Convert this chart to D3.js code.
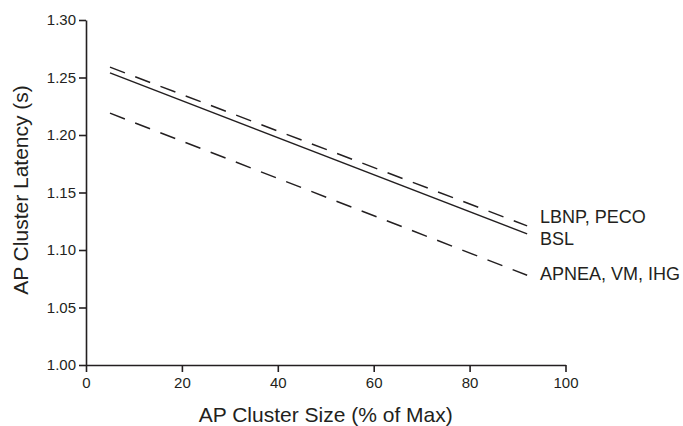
<!DOCTYPE html>
<html>
<head>
<meta charset="utf-8">
<script src="https://cdnjs.cloudflare.com/ajax/libs/d3/7.8.5/d3.min.js"></script>
<style>
  body { margin: 0; background: #fff; }
  svg { display: block; font-family: "Liberation Sans", Arial, sans-serif; }
</style>
</head>
<body>
<div id="chart"></div>
<script>
// data
var xDomain = [0, 100];
var yDomain = [1.00, 1.30];
var xTicks = [0, 20, 40, 60, 80, 100];
var yTicks = [1.00, 1.05, 1.10, 1.15, 1.20, 1.25, 1.30];
var names = ["LBNP, PECO", "BSL", "APNEA, VM, IHG"];
var xStart = [5, 5, 5];
var xEnd = [92, 92, 92];
var yStart = [1.259, 1.254, 1.219];
var yEnd = [1.121, 1.114, 1.078];
var dashed = [true, false, true];

(function(){
  var w = 683, h = 426;
  var mLeft = 86, mRight = 565.5, mTop = 20, mBottom = 365;

  var svg = d3.select("#chart").append("svg")
    .attr("width", w)
    .attr("height", h);

  var x = d3.scaleLinear().domain(xDomain).range([mLeft, mRight]);
  var y = d3.scaleLinear().domain(yDomain).range([mBottom, mTop]);

  // axes
  var gx = svg.append("g")
    .attr("transform", "translate(0," + mBottom + ")")
    .call(d3.axisBottom(x).tickValues(xTicks).tickSize(7).tickPadding(5).tickSizeOuter(0));
  var gy = svg.append("g")
    .attr("transform", "translate(" + mLeft + ",0)")
    .call(d3.axisLeft(y).tickValues(yTicks).tickFormat(d3.format(".2f")).tickSize(7).tickPadding(3).tickSizeOuter(0));

  [gx, gy].forEach(function(g){
    g.attr("font-family", null).attr("font-size", null);
    g.select(".domain").attr("stroke", "#231f20").attr("stroke-width", 1.6);
    g.selectAll(".tick line").attr("stroke", "#231f20").attr("stroke-width", 1.6);
    g.selectAll(".tick text").attr("fill", "#231f20").style("font-size", "15px");
  });

  // lines
  names.forEach(function(n, i){
    svg.append("line")
      .attr("x1", x(xStart[i]))
      .attr("y1", y(yStart[i]))
      .attr("x2", x(xEnd[i]))
      .attr("y2", y(yEnd[i]))
      .attr("stroke", "#231f20")
      .attr("stroke-width", 1.5)
      .attr("stroke-dasharray", dashed[i] ? "16,11" : null);
  });

  // labels at the right end
  var labelY = [216.5, 238.5, 273.5];
  names.forEach(function(n, i){
    svg.append("text")
      .attr("x", 540)
      .attr("y", labelY[i])
      .attr("dy", "0.35em")
      .attr("fill", "#231f20")
      .style("font-size", "18px")
      .text(n);
  });

  // axis titles
  svg.append("text")
    .attr("x", (mLeft + mRight) / 2)
    .attr("y", 422)
    .attr("text-anchor", "middle")
    .attr("fill", "#231f20")
    .style("font-size", "21px")
    .text("AP Cluster Size (% of Max)");

  svg.append("text")
    .attr("transform", "translate(28,190) rotate(-90)")
    .attr("text-anchor", "middle")
    .attr("fill", "#231f20")
    .style("font-size", "21px")
    .text("AP Cluster Latency (s)");
})();
</script>
</body>
</html>
